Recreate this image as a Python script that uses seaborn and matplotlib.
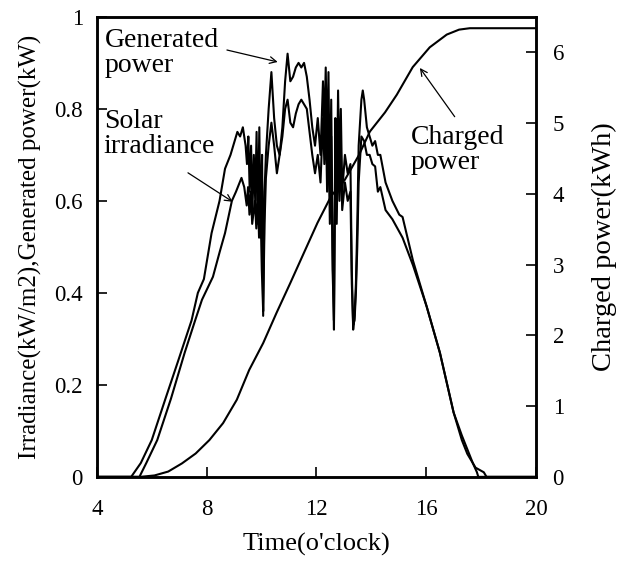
import matplotlib
matplotlib.use("Agg")
import matplotlib.pyplot as plt
import seaborn as sns
import pandas as pd

# ---- data ----
gen_t = [4.0, 5.25, 5.6, 6.0, 6.5, 6.95, 7.45, 7.68, 7.9, 8.18, 8.47, 8.67, 8.87, 9.12, 9.22, 9.32,
         9.42, 9.47, 9.52, 9.57, 9.62, 9.67, 9.72, 9.77, 9.82, 9.87, 9.92, 9.97, 10.02, 10.06, 10.11,
         10.16, 10.26, 10.36, 10.46, 10.56, 10.66, 10.76, 10.86, 10.95, 11.05, 11.15, 11.25, 11.35,
         11.45, 11.55, 11.65, 11.75, 11.85, 11.95, 12.05, 12.15, 12.24, 12.29, 12.34, 12.39, 12.44,
         12.49, 12.54, 12.59, 12.64, 12.69, 12.74, 12.79, 12.84, 12.89, 12.94, 13.04, 13.14, 13.24,
         13.29, 13.34, 13.39, 13.44, 13.49, 13.54, 13.64, 13.69, 13.74, 13.84, 13.94, 14.04, 14.14,
         14.24, 14.33, 14.52, 14.77, 15.02, 15.14, 15.52, 16.02, 16.5, 17.0, 17.3, 17.5, 17.8, 18.1,
         18.2, 20.0]
gen_v = [0, 0, 0.03, 0.08, 0.17, 0.25, 0.34, 0.40, 0.43, 0.53, 0.60, 0.67, 0.70, 0.75, 0.74, 0.76,
         0.72, 0.68, 0.74, 0.62, 0.72, 0.58, 0.70, 0.60, 0.75, 0.55, 0.76, 0.52, 0.70, 0.35, 0.62,
         0.70, 0.80, 0.88, 0.78, 0.72, 0.70, 0.76, 0.86, 0.92, 0.86, 0.87, 0.89, 0.90,
         0.89, 0.90, 0.87, 0.82, 0.76, 0.72, 0.78, 0.70, 0.86, 0.75, 0.89, 0.70, 0.88,
         0.60, 0.82, 0.50, 0.32, 0.78, 0.60, 0.84, 0.65, 0.80, 0.62, 0.70, 0.66, 0.68,
         0.45, 0.32, 0.35, 0.42, 0.55, 0.72, 0.82, 0.84, 0.82, 0.76, 0.74, 0.72, 0.73,
         0.70, 0.70, 0.64, 0.60, 0.57, 0.565, 0.47, 0.37, 0.27, 0.14, 0.08, 0.05, 0.02, 0.01,
         0, 0]

irr_t = [4.0, 5.55, 5.8, 6.2, 6.7, 7.2, 7.58, 7.83, 8.23, 8.48, 8.67, 8.92, 9.07, 9.27, 9.37, 9.46,
         9.51, 9.56, 9.61, 9.66, 9.76, 9.81, 9.86, 9.91, 9.96, 10.01, 10.06, 10.11, 10.16, 10.26,
         10.36, 10.46, 10.56, 10.66, 10.76, 10.86, 10.95, 11.05, 11.15, 11.25, 11.35, 11.45, 11.55,
         11.65, 11.75, 11.85, 11.95, 12.05, 12.15, 12.24, 12.29, 12.34, 12.39, 12.44, 12.49, 12.54,
         12.59, 12.64, 12.69, 12.74, 12.79, 12.84, 12.89, 12.94, 13.04, 13.14, 13.24, 13.29, 13.34,
         13.39, 13.44, 13.49, 13.54, 13.64, 13.74, 13.84, 13.94, 14.04, 14.14, 14.24, 14.33, 14.52,
         14.77, 15.14, 15.52, 16.02, 16.5, 17.0, 17.3, 17.5, 17.7, 17.85, 17.9, 20.0]
irr_v = [0, 0, 0.03, 0.08, 0.17, 0.27, 0.34, 0.385, 0.435, 0.49, 0.53, 0.60, 0.62, 0.65, 0.63, 0.59,
         0.63, 0.57, 0.62, 0.55, 0.60, 0.54, 0.62, 0.52, 0.60, 0.45, 0.36, 0.55, 0.65, 0.72,
         0.77, 0.72, 0.66, 0.70, 0.74, 0.80, 0.82, 0.77, 0.76, 0.79, 0.81, 0.82, 0.81,
         0.80, 0.75, 0.70, 0.66, 0.70, 0.64, 0.78, 0.68, 0.80, 0.62, 0.78, 0.55, 0.74,
         0.45, 0.34, 0.70, 0.55, 0.75, 0.60, 0.72, 0.58, 0.64, 0.60, 0.62, 0.42, 0.33,
         0.34, 0.40, 0.50, 0.64, 0.74, 0.73, 0.70, 0.70, 0.68, 0.675, 0.62, 0.63, 0.58,
         0.56, 0.52, 0.46, 0.37, 0.27, 0.14, 0.09, 0.06, 0.03, 0.01, 0, 0]

chg_t = [4.0, 5.58, 6.1, 6.6, 7.1, 7.6, 8.1, 8.6, 9.1, 9.55, 10.06, 10.55, 11.05, 11.55, 12.04,
         12.54, 13.04, 13.54, 13.95, 14.5, 14.93, 15.51, 16.13, 16.75, 17.2, 17.59, 20.0]
chg_v = [0, 0, 0.02, 0.075, 0.19, 0.33, 0.52, 0.76, 1.09, 1.51, 1.89, 2.32, 2.74, 3.17, 3.59,
         3.97, 4.2, 4.54, 4.88, 5.15, 5.40, 5.79, 6.07, 6.25, 6.32, 6.34, 6.34]

x_ticks = [4, 8, 12, 16, 20]
x_tick_labels = ["4", "8", "12", "16", "20"]
left_ticks = [0, 0.2, 0.4, 0.6, 0.8, 1.0]
left_tick_labels = ["0", "0.2", "0.4", "0.6", "0.8", "1"]
right_ticks = [0, 1, 2, 3, 4, 5, 6]
right_tick_labels = ["0", "1", "2", "3", "4", "5", "6"]

gen_df = pd.DataFrame({"t": gen_t, "v": gen_v})
irr_df = pd.DataFrame({"t": irr_t, "v": irr_v})
chg_df = pd.DataFrame({"t": chg_t, "v": chg_v})

# ---- style ----
sns.set_theme(style="ticks")
plt.rcParams['font.family'] = ['Liberation Serif', 'DejaVu Serif']
plt.rcParams['text.color'] = 'black'
plt.rcParams['axes.labelcolor'] = 'black'

fig, ax = plt.subplots(figsize=(6.21, 5.63), dpi=100)
fig.subplots_adjust(left=0.156, right=0.863, bottom=0.153, top=0.970)

lw = 1.5
sns.lineplot(data=gen_df, x="t", y="v", ax=ax, color="black", lw=lw, estimator=None, sort=False)
sns.lineplot(data=irr_df, x="t", y="v", ax=ax, color="black", lw=lw, estimator=None, sort=False)

ax2 = ax.twinx()
sns.lineplot(data=chg_df, x="t", y="v", ax=ax2, color="black", lw=lw, estimator=None, sort=False)

ax.set_xlim(4, 20)
ax.set_ylim(0, 1)
ax2.set_ylim(0, 6.5)

ax.set_xticks(x_ticks)
ax.set_xticklabels(x_tick_labels)
ax.set_yticks(left_ticks)
ax.set_yticklabels(left_tick_labels)
ax2.set_yticks(right_ticks)
ax2.set_yticklabels(right_tick_labels)

tick_fs = 16.5
ax.tick_params(axis="both", direction="in", length=7, width=1.2, labelsize=tick_fs, pad=10,
               colors="black")
ax.tick_params(axis="x", pad=16)
ax2.tick_params(axis="y", direction="in", length=7, width=1.2, labelsize=tick_fs, pad=12,
                colors="black")

for a in (ax, ax2):
    for s in a.spines.values():
        s.set_visible(True)
        s.set_linewidth(1.8)
        s.set_color("black")
    a.grid(False)

ax.set_xlabel("Time(o'clock)", fontsize=19, color="black", labelpad=9)
ax.set_ylabel("Irradiance(kW/m2),Generated power(kW)", fontsize=18, color="black", labelpad=9)
ax2.set_ylabel("Charged power(kWh)", fontsize=20.5, color="black", labelpad=20)

ann_fs = 20
arrow = dict(arrowstyle="->", lw=0.9, color="black", shrinkA=0, shrinkB=0)
ax.text(4.3, 0.975, "Generated\npower", fontsize=ann_fs, va="top", ha="left", linespacing=1.0)
ax.annotate("", xy=(10.59, 0.902), xytext=(8.74, 0.928), arrowprops=arrow)
ax.text(4.25, 0.80, "Solar\nirradiance", fontsize=ann_fs, va="top", ha="left", linespacing=1.0)
ax.annotate("", xy=(8.95, 0.598), xytext=(7.32, 0.661), arrowprops=arrow)
ax.text(15.45, 0.765, "Charged\npower", fontsize=ann_fs, va="top", ha="left", linespacing=1.0)
ax.annotate("", xy=(15.77, 0.889), xytext=(17.04, 0.783), arrowprops=arrow)

fig.savefig("out.png", dpi=100, facecolor="white")
